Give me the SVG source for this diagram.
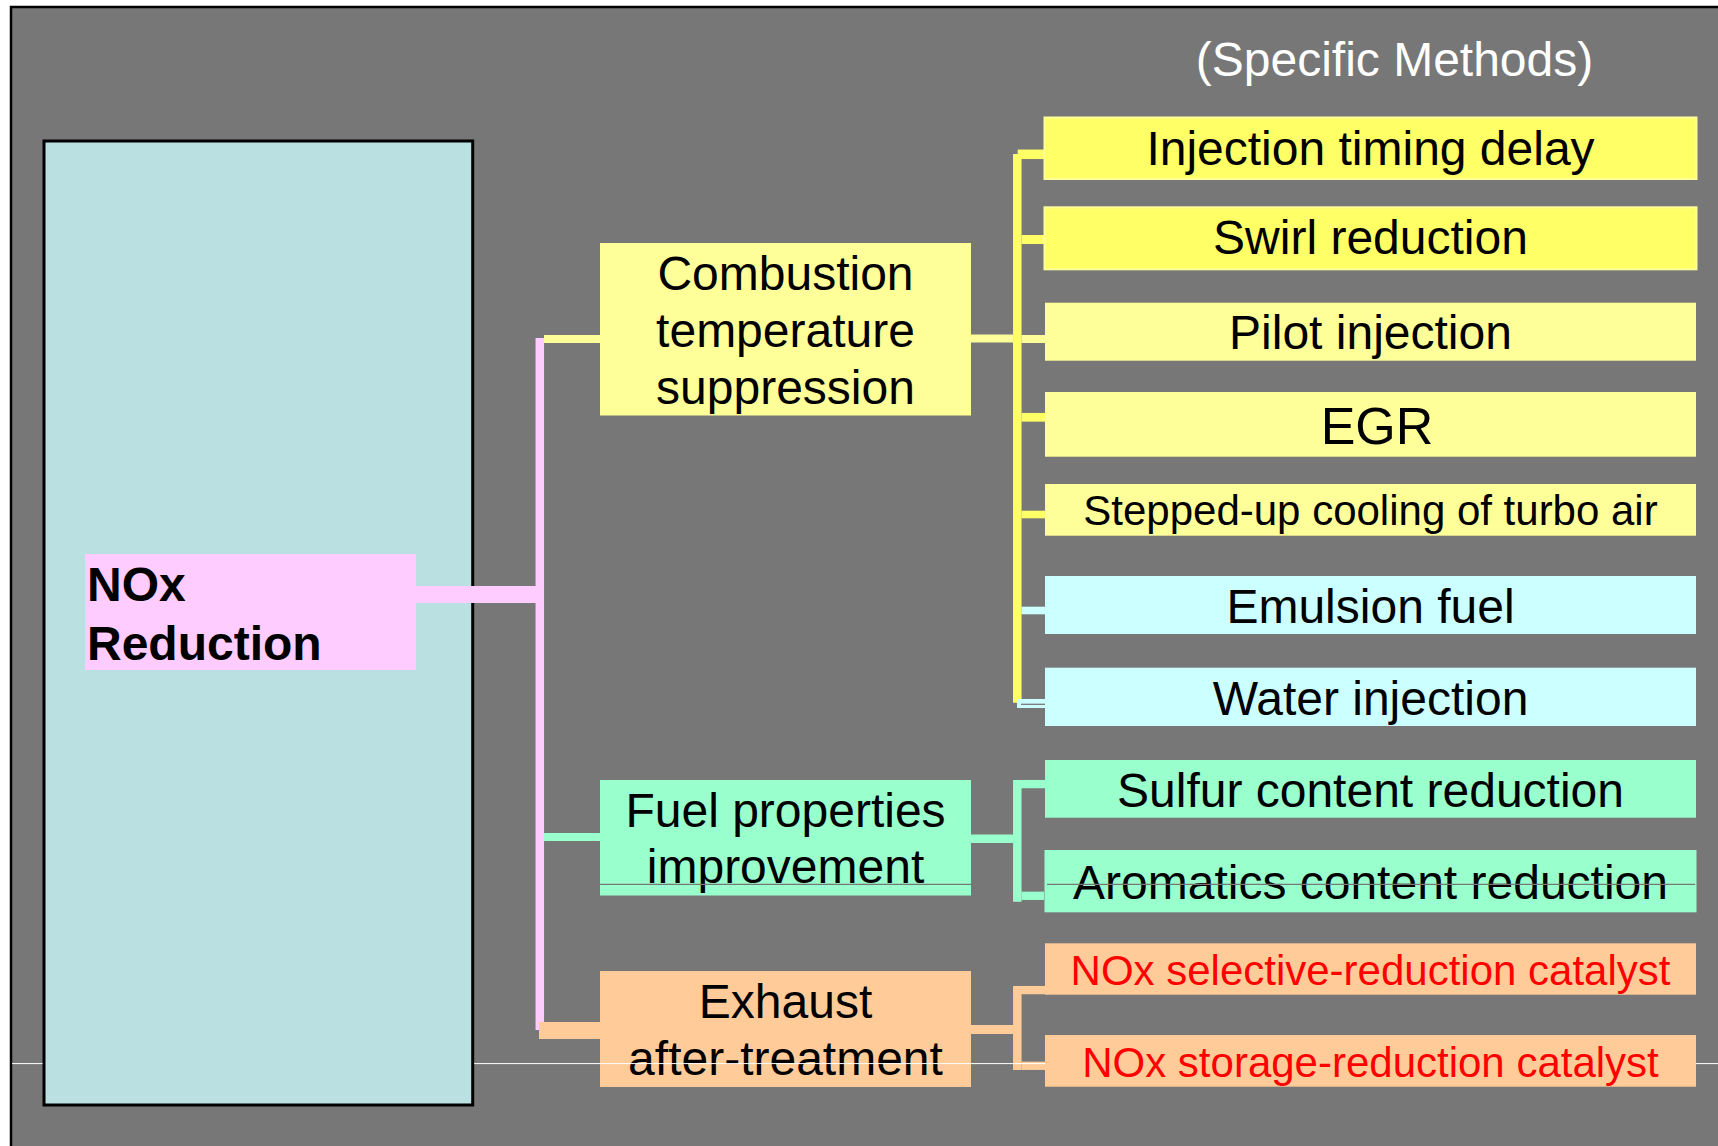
<svg xmlns="http://www.w3.org/2000/svg" width="1718" height="1146" viewBox="0 0 1718 1146">
<style>
text{font-family:"Liberation Sans",Arial,sans-serif;fill:#000}
.c{text-anchor:middle}
.t48{font-size:48px}
.t42{font-size:42px}
.red{fill:#FF0000}
.y1{fill:#FFFF66;stroke:#FFFF99;stroke-width:2}
.y2{fill:#FFFF99}
.bl{fill:#CCFFFF}
.gr{fill:#99FFCC}
.or{fill:#FFCC99}
.cn{fill:none;stroke-linecap:butt}
</style>
<rect x="0" y="0" width="1718" height="1146" fill="#FFFFFF"/>
<rect id="frame" x="11" y="7" width="1720" height="1150" fill="#777777" stroke="#000" stroke-width="2.5"/>

<g id="panel">
  <rect x="44" y="141" width="428.7" height="964" fill="#BAE0E2" stroke="#000" stroke-width="3"/>
</g>

<g id="connectors" class="cn">
  <path d="M416 594.5H539.8" stroke="#FFCCFF" stroke-width="17"/>
  <path d="M539.8 338V1030" stroke="#FFCCFF" stroke-width="8.5"/>
  <path d="M544 339H600" stroke="#FFFF99" stroke-width="8"/>
  <path d="M544 837H600" stroke="#99FFCC" stroke-width="8"/>
  <path d="M539 1030.5H600" stroke="#FFCC99" stroke-width="17"/>

  <path d="M971 338.5H1013" stroke="#FFFF99" stroke-width="8"/>
  <path d="M1017.3 154V702.7" stroke="#FFFF66" stroke-width="8.5"/>
  <path d="M1017.7 154.3H1044" stroke="#FFFF66" stroke-width="9.5"/>
  <path d="M1021.5 239.5H1044" stroke="#FFFF66" stroke-width="9"/>
  <path d="M1021.5 339H1045" stroke="#FFFF99" stroke-width="8"/>
  <path d="M1021.5 417.3H1045" stroke="#FFFF66" stroke-width="8.7"/>
  <path d="M1021.5 514.5H1045" stroke="#FFFF66" stroke-width="7.6"/>
  <path d="M1021.5 610.5H1045" stroke="#CCFFFF" stroke-width="7.6"/>
  <rect x="1017" y="699" width="28" height="9" fill="#CCFFFF"/>
  <path d="M1021 704.3H1045" stroke="#777777" stroke-width="1.3"/>

  <path d="M971 838.7H1013" stroke="#99FFCC" stroke-width="8.5"/>
  <path d="M1017.3 780V901.7" stroke="#99FFCC" stroke-width="8.5"/>
  <path d="M1017.7 784.1H1045" stroke="#99FFCC" stroke-width="8.3"/>
  <path d="M1021.5 895.8H1044" stroke="#99FFCC" stroke-width="8.3"/>

  <path d="M971 1029.5H1013" stroke="#FFCC99" stroke-width="9"/>
  <path d="M1017.3 986V1070" stroke="#FFCC99" stroke-width="8.5"/>
  <path d="M1017.7 990.1H1045" stroke="#FFCC99" stroke-width="8.3"/>
  <path d="M1021.5 1065.8H1045" stroke="#FFCC99" stroke-width="8.3"/>
</g>

<g id="exhaust">
  <rect class="or" x="600" y="971" width="371" height="116"/>
  <text class="c t48" x="785.5" y="1018">Exhaust</text>
  <text class="c t48" x="785.5" y="1075">after-treatment</text>
</g>

<g id="hline" stroke="#FFFFFF" stroke-width="1">
  <path d="M12 1063.6H42.5"/>
  <path d="M474.2 1063.6H1718"/>
</g>

<g id="nox">
  <rect x="85" y="554" width="331" height="116" fill="#FFCCFF"/>
  <text x="87" y="601" font-size="48" font-weight="bold">NOx</text>
  <text x="87" y="659.5" font-size="48" font-weight="bold">Reduction</text>
</g>

<g id="combustion">
  <rect class="y2" x="600" y="243" width="371" height="172.5"/>
  <text class="c t48" x="785.5" y="290">Combustion</text>
  <text class="c t48" x="785.5" y="347">temperature</text>
  <text class="c t48" x="785.5" y="404">suppression</text>
</g>

<g id="fuel">
  <rect class="gr" x="600" y="780" width="371" height="115.5"/>
  <text class="c t48" x="785.5" y="826.7">Fuel properties</text>
  <text class="c t48" x="785.5" y="883">improvement</text>
</g>

<text id="title" x="1394.5" y="76" class="c t48" style="fill:#FFFFFF">(Specific Methods)</text>

<g id="injection">
  <rect class="y1" x="1044.5" y="117.5" width="652" height="61.5"/>
  <text class="c t48" x="1370.5" y="165">Injection timing delay</text>
</g>
<g id="swirl">
  <rect class="y1" x="1044.5" y="207.3" width="652" height="62"/>
  <text class="c t48" x="1370.5" y="254">Swirl reduction</text>
</g>
<g id="pilot">
  <rect class="y2" x="1045" y="302.7" width="651" height="58"/>
  <text class="c t48" x="1370.5" y="349">Pilot injection</text>
</g>
<g id="egr">
  <rect class="y2" x="1045" y="392" width="651" height="64.7"/>
  <text class="c" x="1377" y="444" font-size="52">EGR</text>
</g>
<g id="stepped">
  <rect class="y2" x="1045" y="484" width="651" height="51.7"/>
  <text class="c t42" x="1370.5" y="525">Stepped-up cooling of turbo air</text>
</g>
<g id="emulsion">
  <rect class="bl" x="1045" y="576" width="651" height="58"/>
  <text class="c t48" x="1370.5" y="622.7">Emulsion fuel</text>
</g>
<g id="water">
  <rect class="bl" x="1045" y="667.7" width="651" height="58.3"/>
  <text class="c t48" x="1370.5" y="715">Water injection</text>
</g>
<g id="sulfur">
  <rect class="gr" x="1045" y="760" width="651" height="57.7"/>
  <text class="c t48" x="1370.5" y="806.7">Sulfur content reduction</text>
</g>
<g id="aromatics">
  <rect class="gr" x="1044.5" y="850" width="652" height="62.3"/>
  <text class="c t48" x="1370.5" y="899">Aromatics content reduction</text>
</g>
<g id="selective">
  <rect class="or" x="1045" y="943.3" width="651" height="51.4"/>
  <text class="c t42 red" x="1370.5" y="985">NOx selective-reduction catalyst</text>
</g>
<g id="storage">
  <rect class="or" x="1045" y="1035" width="651" height="51.7"/>
  <text class="c t42 red" x="1370.5" y="1076.7">NOx storage-reduction catalyst</text>
</g>

<g id="gline" stroke="#777777" stroke-width="1.3">
  <path d="M600 884.3H971"/>
  <path d="M1047 884.3H1695"/>
</g>
</svg>
